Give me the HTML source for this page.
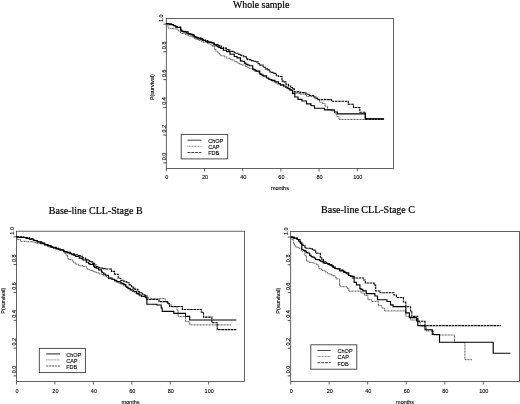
<!DOCTYPE html>
<html><head><meta charset="utf-8"><title>Survival curves</title>
<style>
html,body{margin:0;padding:0;background:#fff;}
body{width:520px;height:404px;overflow:hidden;}
svg{display:block;}
.s{font-family:"Liberation Sans",sans-serif;font-size:5.5px;fill:#000;stroke:#000;stroke-width:0.1;}
.t{font-family:"Liberation Serif",serif;font-size:10px;fill:#000;stroke:#000;stroke-width:0.2;}
.chop{fill:none;stroke:#000;stroke-width:1.15;}
.cap{fill:none;stroke:#222;stroke-width:0.8;stroke-dasharray:1 0.5;}
.fdb{fill:none;stroke:#000;stroke-width:1.1;stroke-dasharray:2.6 0.6;}
.lchop{stroke:#111;stroke-width:0.8;}
.lcap{stroke:#555;stroke-width:0.7;stroke-dasharray:1 0.5;}
.lfdb{stroke:#111;stroke-width:0.8;stroke-dasharray:3 0.8;}
.lchop.thick{stroke:#444;stroke-width:1.2;}
.lcap.thick{stroke:#888;stroke-width:1.0;}
.lfdb.thick{stroke:#555;stroke-width:1.1;stroke-dasharray:2.2 0.7;}
</style></head><body>
<svg width="520" height="404" viewBox="0 0 520 404">
<defs><filter id="b" x="0" y="0" width="520" height="404" filterUnits="userSpaceOnUse"><feGaussianBlur stdDeviation="0.34"/></filter></defs>
<rect width="520" height="404" fill="#fff"/>
<g filter="url(#b)">
<rect x="166.3" y="18.5" width="227.1" height="149.9" fill="none" stroke="#3c3c3c" stroke-width="0.8"/>
<line x1="166.3" y1="168.45" x2="166.3" y2="171.4" stroke="#3c3c3c" stroke-width="0.8"/>
<text x="166.8" y="179.4" text-anchor="middle" class="s">0</text>
<line x1="204.5" y1="168.45" x2="204.5" y2="171.4" stroke="#3c3c3c" stroke-width="0.8"/>
<text x="205.0" y="179.4" text-anchor="middle" class="s">20</text>
<line x1="242.7" y1="168.45" x2="242.7" y2="171.4" stroke="#3c3c3c" stroke-width="0.8"/>
<text x="243.2" y="179.4" text-anchor="middle" class="s">40</text>
<line x1="280.9" y1="168.45" x2="280.9" y2="171.4" stroke="#3c3c3c" stroke-width="0.8"/>
<text x="281.4" y="179.4" text-anchor="middle" class="s">60</text>
<line x1="319.1" y1="168.45" x2="319.1" y2="171.4" stroke="#3c3c3c" stroke-width="0.8"/>
<text x="319.6" y="179.4" text-anchor="middle" class="s">80</text>
<line x1="357.3" y1="168.45" x2="357.3" y2="171.4" stroke="#3c3c3c" stroke-width="0.8"/>
<text x="357.8" y="179.4" text-anchor="middle" class="s">100</text>
<line x1="163.3" y1="162.9" x2="166.3" y2="162.9" stroke="#3c3c3c" stroke-width="0.9"/>
<text transform="translate(165.8,160.3) rotate(-90)" class="s">0.0</text>
<line x1="163.3" y1="135.1" x2="166.3" y2="135.1" stroke="#3c3c3c" stroke-width="0.9"/>
<text transform="translate(165.8,132.5) rotate(-90)" class="s">0.2</text>
<line x1="163.3" y1="107.4" x2="166.3" y2="107.4" stroke="#3c3c3c" stroke-width="0.9"/>
<text transform="translate(165.8,104.8) rotate(-90)" class="s">0.4</text>
<line x1="163.3" y1="79.6" x2="166.3" y2="79.6" stroke="#3c3c3c" stroke-width="0.9"/>
<text transform="translate(165.8,77.0) rotate(-90)" class="s">0.6</text>
<line x1="163.3" y1="51.8" x2="166.3" y2="51.8" stroke="#3c3c3c" stroke-width="0.9"/>
<text transform="translate(165.8,49.2) rotate(-90)" class="s">0.8</text>
<line x1="163.3" y1="24.1" x2="166.3" y2="24.1" stroke="#3c3c3c" stroke-width="0.9"/>
<text transform="translate(163.4,22.0) rotate(-90)" class="s">1.0</text>
<text x="279.9" y="190.2" text-anchor="middle" class="s">months</text>
<text transform="translate(154.3,87.2) rotate(-90)" text-anchor="middle" class="s">P(survival)</text>
<text x="233.0" y="7.5" class="t" style="font-size:9.8px">Whole sample</text>
<path d="M166.3,23.6 L168.0,23.6 L168.0,28.0 L170.7,28.0 L170.7,28.5 L173.2,28.5 L173.2,28.8 L175.8,28.8 L175.8,29.0 L178.1,29.0 L178.1,31.1 L180.4,31.1 L180.4,33.2 L182.0,33.2 L182.0,33.5 L185.7,33.5 L185.7,35.0 L188.1,35.0 L188.1,35.8 L189.0,35.8 L189.0,36.1 L191.6,36.1 L191.6,36.9 L194.2,36.9 L194.2,38.7 L195.8,38.7 L195.8,39.3 L198.5,39.3 L198.5,40.3 L201.3,40.3 L201.3,41.4 L203.5,41.4 L203.5,42.4 L206.5,42.4 L206.5,42.8 L207.6,42.8 L207.6,43.8 L209.6,43.8 L209.6,44.2 L211.2,44.2 L211.2,45.4 L212.7,45.4 L212.7,46.5 L214.5,46.5 L214.5,49.1 L215.8,49.1 L215.8,51.2 L217.8,51.2 L217.8,53.0 L219.5,53.0 L219.5,54.4 L220.4,54.4 L220.4,55.3 L221.4,55.3 L221.4,55.8 L224.4,55.8 L224.4,56.9 L226.5,56.9 L226.5,58.1 L229.7,58.1 L229.7,59.1 L231.1,59.1 L231.1,59.9 L234.2,59.9 L234.2,61.2 L235.4,61.2 L235.4,61.6 L237.2,61.6 L237.2,63.1 L239.4,63.1 L239.4,64.2 L240.8,64.2 L240.8,64.3 L241.9,64.3 L241.9,65.0 L245.3,65.0 L245.3,66.4 L246.9,66.4 L246.9,66.7 L247.7,66.7 L247.7,67.5 L249.1,67.5 L249.1,68.6 L252.4,68.6 L252.4,69.6 L254.1,69.6 L254.1,71.2 L255.4,71.2 L255.4,71.5 L258.6,71.5 L258.6,73.3 L259.9,73.3 L259.9,74.1 L263.1,74.1 L263.1,76.3 L264.8,76.3 L264.8,77.0 L266.9,77.0 L266.9,78.1 L268.9,78.1 L268.9,79.7 L270.8,79.7 L270.8,80.2 L271.7,80.2 L271.7,81.2 L275.1,81.2 L275.1,83.0 L277.3,83.0 L277.3,84.1 L278.5,84.1 L278.5,84.2 L280.0,84.2 L280.0,85.3 L283.3,85.3 L283.3,87.0 L286.0,87.0 L286.0,88.3 L286.0,88.3 L289.0,88.3 L289.0,89.6 L291.8,89.6 L291.8,91.0 L294.1,91.0 L294.1,93.2 L300.0,93.2 L300.0,94.1 L306.5,94.1 L306.5,96.4 L314.0,96.4 L314.0,98.0 L317.5,98.0 L317.5,99.6 L319.5,99.6 L319.5,102.2 L322.5,102.2 L322.5,103.5 L325.0,103.5 L325.0,106.2 L327.5,106.2 L327.5,109.7 L331.0,109.7 L331.0,110.8 L334.5,110.8 L334.5,113.2 L336.8,113.2 L336.8,116.6 L339.0,116.6 L339.0,119.4 L384.1,119.4" class="cap"/>
<path d="M166.3,23.6 L168.0,23.6 L168.0,23.8 L169.6,23.8 L169.6,23.9 L172.1,23.9 L172.1,24.8 L174.2,24.8 L174.2,25.5 L175.2,25.5 L175.2,26.5 L177.3,26.5 L177.3,27.3 L180.8,27.3 L180.8,30.7 L181.9,30.7 L181.9,31.2 L184.4,31.2 L184.4,31.7 L188.1,31.7 L188.1,33.8 L189.5,33.8 L189.5,34.2 L192.3,34.2 L192.3,35.7 L194.4,35.7 L194.4,37.1 L195.8,37.1 L195.8,37.3 L197.7,37.3 L197.7,37.8 L201.0,37.8 L201.0,39.4 L203.5,39.4 L203.5,40.4 L205.4,40.4 L205.4,40.6 L207.8,40.6 L207.8,42.0 L209.2,42.0 L209.2,42.4 L211.2,42.4 L211.2,42.7 L214.4,42.7 L214.4,44.4 L215.3,44.4 L215.3,44.5 L218.8,44.5 L218.8,45.8 L219.8,45.8 L219.8,46.1 L221.5,46.1 L221.5,47.2 L223.6,47.2 L223.6,48.1 L226.5,48.1 L226.5,49.6 L227.4,49.6 L227.4,49.6 L228.7,49.6 L228.7,50.1 L229.8,50.1 L229.8,51.4 L233.1,51.4 L233.1,51.8 L234.2,51.8 L234.2,52.7 L236.0,52.7 L236.0,53.2 L237.9,53.2 L237.9,54.4 L240.5,54.4 L240.5,55.1 L241.9,55.1 L241.9,55.8 L243.7,55.8 L243.7,56.6 L246.2,56.6 L246.2,58.9 L247.7,58.9 L247.7,59.6 L248.8,59.6 L248.8,59.6 L250.8,59.6 L250.8,60.6 L253.9,60.6 L253.9,61.3 L255.4,61.3 L255.4,61.9 L258.1,61.9 L258.1,63.7 L260.0,63.7 L260.0,65.1 L263.1,65.1 L263.1,67.3 L265.2,67.3 L265.2,68.9 L267.4,68.9 L267.4,69.9 L269.8,69.9 L269.8,72.0 L270.8,72.0 L270.8,72.4 L272.9,72.4 L272.9,73.4 L276.3,73.4 L276.3,75.8 L278.5,75.8 L278.5,76.5 L282.0,76.5 L282.0,80.9 L283.1,80.9 L283.1,81.9 L286.0,81.9 L286.0,84.3 L286.0,84.3 L288.5,84.3 L288.5,86.0 L290.6,86.0 L290.6,87.5 L292.5,87.5 L292.5,88.9 L294.4,88.9 L294.4,91.9 L300.0,91.9 L300.0,92.6 L305.9,92.6 L305.9,94.2 L309.5,94.2 L309.5,95.5 L313.7,95.5 L313.7,97.0 L316.0,97.0 L316.0,98.3 L318.3,98.3 L318.3,99.6 L331.5,99.6 L331.5,101.3 L348.2,101.3 L348.2,104.3 L353.5,104.3 L353.5,107.5 L359.8,107.5 L359.8,112.2 L365.3,112.2 L365.3,119.1 L384.1,119.1" class="fdb"/>
<path d="M166.3,23.6 L167.9,23.6 L167.9,24.0 L169.8,24.0 L169.8,24.6 L172.5,24.6 L172.5,24.6 L173.5,24.6 L173.5,25.7 L174.2,25.7 L174.2,25.7 L175.8,25.7 L175.8,27.1 L177.3,27.1 L177.3,27.3 L180.6,27.3 L180.6,30.1 L181.9,30.1 L181.9,31.2 L183.2,31.2 L183.2,31.9 L186.6,31.9 L186.6,33.2 L188.1,33.2 L188.1,33.8 L190.9,33.8 L190.9,34.6 L194.0,34.6 L194.0,36.6 L195.8,36.6 L195.8,37.3 L196.8,37.3 L196.8,38.1 L199.0,38.1 L199.0,38.8 L202.4,38.8 L202.4,40.2 L203.5,40.2 L203.5,40.4 L205.5,40.4 L205.5,41.3 L207.7,41.3 L207.7,42.1 L211.2,42.1 L211.2,42.7 L212.4,42.7 L212.4,43.0 L213.9,43.0 L213.9,44.8 L216.0,44.8 L216.0,45.8 L217.8,45.8 L217.8,46.7 L218.8,46.7 L218.8,47.3 L220.7,47.3 L220.7,48.5 L223.3,48.5 L223.3,50.2 L226.5,50.2 L226.5,51.6 L230.0,51.6 L230.0,54.2 L234.2,54.2 L234.2,56.5 L237.0,56.5 L237.0,57.8 L240.4,57.8 L240.4,60.8 L241.9,60.8 L241.9,61.2 L244.4,61.2 L244.4,63.1 L245.9,63.1 L245.9,64.2 L247.7,64.2 L247.7,65.0 L249.4,65.0 L249.4,65.7 L252.7,65.7 L252.7,69.1 L253.9,69.1 L253.9,69.7 L255.4,69.7 L255.4,70.4 L256.7,70.4 L256.7,71.1 L259.8,71.1 L259.8,73.9 L260.8,73.9 L260.8,74.3 L261.9,74.3 L261.9,75.2 L263.1,75.2 L263.1,75.8 L266.5,75.8 L266.5,78.0 L268.9,78.0 L268.9,79.2 L270.8,79.2 L270.8,79.6 L271.9,79.6 L271.9,80.3 L272.9,80.3 L272.9,80.3 L275.0,80.3 L275.0,81.8 L276.3,81.8 L276.3,81.9 L278.5,81.9 L278.5,83.5 L280.3,83.5 L280.3,84.9 L283.7,84.9 L283.7,86.0 L286.0,86.0 L286.0,87.2 L286.0,87.2 L288.0,87.2 L288.0,88.6 L290.0,88.6 L290.0,90.1 L292.5,90.1 L292.5,93.5 L294.8,93.5 L294.8,97.0 L298.0,97.0 L298.0,99.3 L302.0,99.3 L302.0,101.0 L306.5,101.0 L306.5,103.9 L311.0,103.9 L311.0,105.7 L314.5,105.7 L314.5,108.2 L324.5,108.2 L324.5,109.8 L334.5,109.8 L334.5,112.0 L337.5,112.0 L337.5,113.8 L365.3,113.8 L365.3,118.7 L384.1,118.7" class="chop"/>
<rect x="181.2" y="134.4" width="46.5" height="24.5" fill="#fff" stroke="#3c3c3c" stroke-width="0.9"/>
<line x1="187.5" y1="140.2" x2="201.4" y2="140.2" class="lchop thin"/>
<text x="208.2" y="143.0" class="s">ChOP</text>
<line x1="187.5" y1="146.3" x2="201.4" y2="146.3" class="lcap thin"/>
<text x="208.2" y="149.1" class="s">CAP</text>
<line x1="187.5" y1="152.5" x2="201.4" y2="152.5" class="lfdb thin"/>
<text x="208.2" y="155.3" class="s">FDB</text>
<rect x="16.5" y="231.2" width="228.0" height="150.3" fill="none" stroke="#3c3c3c" stroke-width="0.8"/>
<line x1="16.5" y1="381.5" x2="16.5" y2="384.5" stroke="#3c3c3c" stroke-width="0.8"/>
<text x="17.0" y="392.7" text-anchor="middle" class="s">0</text>
<line x1="54.9" y1="381.5" x2="54.9" y2="384.5" stroke="#3c3c3c" stroke-width="0.8"/>
<text x="55.4" y="392.7" text-anchor="middle" class="s">20</text>
<line x1="93.4" y1="381.5" x2="93.4" y2="384.5" stroke="#3c3c3c" stroke-width="0.8"/>
<text x="93.9" y="392.7" text-anchor="middle" class="s">40</text>
<line x1="131.8" y1="381.5" x2="131.8" y2="384.5" stroke="#3c3c3c" stroke-width="0.8"/>
<text x="132.3" y="392.7" text-anchor="middle" class="s">60</text>
<line x1="170.3" y1="381.5" x2="170.3" y2="384.5" stroke="#3c3c3c" stroke-width="0.8"/>
<text x="170.8" y="392.7" text-anchor="middle" class="s">80</text>
<line x1="208.7" y1="381.5" x2="208.7" y2="384.5" stroke="#3c3c3c" stroke-width="0.8"/>
<text x="209.2" y="392.7" text-anchor="middle" class="s">100</text>
<line x1="13.5" y1="375.9" x2="16.5" y2="375.9" stroke="#3c3c3c" stroke-width="0.9"/>
<text transform="translate(16.0,373.3) rotate(-90)" class="s">0.0</text>
<line x1="13.5" y1="348.1" x2="16.5" y2="348.1" stroke="#3c3c3c" stroke-width="0.9"/>
<text transform="translate(16.0,345.5) rotate(-90)" class="s">0.2</text>
<line x1="13.5" y1="320.3" x2="16.5" y2="320.3" stroke="#3c3c3c" stroke-width="0.9"/>
<text transform="translate(16.0,317.7) rotate(-90)" class="s">0.4</text>
<line x1="13.5" y1="292.4" x2="16.5" y2="292.4" stroke="#3c3c3c" stroke-width="0.9"/>
<text transform="translate(16.0,289.8) rotate(-90)" class="s">0.6</text>
<line x1="13.5" y1="264.6" x2="16.5" y2="264.6" stroke="#3c3c3c" stroke-width="0.9"/>
<text transform="translate(16.0,262.0) rotate(-90)" class="s">0.8</text>
<line x1="13.5" y1="236.8" x2="16.5" y2="236.8" stroke="#3c3c3c" stroke-width="0.9"/>
<text transform="translate(13.6,234.7) rotate(-90)" class="s">1.0</text>
<text x="130.5" y="404" text-anchor="middle" class="s">months</text>
<text transform="translate(5.2,300.7) rotate(-90)" text-anchor="middle" class="s">P(survival)</text>
<text x="48.8" y="213.6" class="t" style="font-size:10px">Base-line CLL-Stage B</text>
<path d="M16.5,236.8 L17.4,236.8 L17.4,239.5 L20.4,239.5 L20.4,241.3 L21.7,241.3 L21.7,241.3 L23.3,241.3 L23.3,241.3 L26.2,241.3 L26.2,241.7 L29.4,241.7 L29.4,241.7 L32.7,241.7 L32.7,242.1 L34.2,242.1 L34.2,242.4 L35.6,242.4 L35.6,243.2 L37.1,243.2 L37.1,243.3 L40.6,243.3 L40.6,243.9 L43.9,243.9 L43.9,244.8 L44.8,244.8 L44.8,245.2 L47.8,245.2 L47.8,245.8 L48.9,245.8 L48.9,247.1 L50.7,247.1 L50.7,247.2 L52.5,247.2 L52.5,248.0 L55.3,248.0 L55.3,248.3 L57.2,248.3 L57.2,249.3 L59.5,249.3 L59.5,249.8 L60.2,249.8 L60.2,250.3 L63.8,250.3 L63.8,252.6 L64.8,252.6 L64.8,253.4 L66.0,253.4 L66.0,255.4 L67.8,255.4 L67.8,258.8 L69.0,258.8 L69.0,259.8 L72.5,259.8 L72.5,261.1 L73.7,261.1 L73.7,262.8 L75.5,262.8 L75.5,264.2 L78.6,264.2 L78.6,265.4 L80.3,265.4 L80.3,265.8 L83.2,265.8 L83.2,266.5 L86.4,266.5 L86.4,268.3 L87.8,268.3 L87.8,269.5 L90.0,269.5 L90.0,270.4 L92.8,270.4 L92.8,271.5 L94.0,271.5 L94.0,271.9 L96.2,271.9 L96.2,272.7 L99.1,272.7 L99.1,274.0 L102.3,274.0 L102.3,275.0 L103.7,275.0 L103.7,276.0 L106.4,276.0 L106.4,277.2 L108.5,277.2 L108.5,278.8 L111.3,278.8 L111.3,279.6 L114.6,279.6 L114.6,281.5 L115.9,281.5 L115.9,281.9 L118.9,281.9 L118.9,283.5 L120.8,283.5 L120.8,284.2 L123.5,284.2 L123.5,285.9 L125.3,285.9 L125.3,286.7 L126.9,286.7 L126.9,288.1 L129.8,288.1 L129.8,290.2 L132.3,290.2 L132.3,291.7 L133.1,291.7 L133.1,291.9 L134.8,291.9 L134.8,292.8 L138.1,292.8 L138.1,294.6 L139.2,294.6 L139.2,295.8 L140.8,295.8 L140.8,296.5 L142.7,296.5 L142.7,296.5 L145.4,296.5 L145.4,297.3 L148.5,297.3 L148.5,298.7 L148.5,298.7 L165.4,298.7 L165.4,302.0 L168.6,302.0 L168.6,304.8 L171.7,304.8 L171.7,306.9 L177.0,306.9 L177.0,310.1 L178.1,310.1 L178.1,316.4 L185.5,316.4 L185.5,321.7 L189.7,321.7 L189.7,324.9 L231.0,324.9" class="cap"/>
<path d="M16.5,236.8 L19.6,236.8 L19.6,236.8 L23.2,236.8 L23.2,237.2 L24.4,237.2 L24.4,237.3 L25.6,237.3 L25.6,237.5 L29.4,237.5 L29.4,239.1 L32.4,239.1 L32.4,239.8 L33.8,239.8 L33.8,240.6 L37.1,240.6 L37.1,241.8 L40.3,241.8 L40.3,243.2 L42.9,243.2 L42.9,243.5 L44.8,243.5 L44.8,244.6 L46.3,244.6 L46.3,245.1 L48.8,245.1 L48.8,245.6 L50.4,245.6 L50.4,246.8 L51.4,246.8 L51.4,247.2 L52.5,247.2 L52.5,247.2 L56.1,247.2 L56.1,248.3 L58.6,248.3 L58.6,249.3 L60.2,249.3 L60.2,249.8 L63.9,249.8 L63.9,251.2 L65.6,251.2 L65.6,252.0 L67.8,252.0 L67.8,252.3 L70.4,252.3 L70.4,253.4 L71.3,253.4 L71.3,253.8 L74.1,253.8 L74.1,254.4 L75.5,254.4 L75.5,254.9 L77.7,254.9 L77.7,255.5 L80.1,255.5 L80.1,256.3 L82.4,256.3 L82.4,257.9 L83.2,257.9 L83.2,258.0 L85.7,258.0 L85.7,259.9 L89.2,259.9 L89.2,261.0 L90.0,261.0 L90.0,261.9 L92.7,261.9 L92.7,263.4 L94.6,263.4 L94.6,265.0 L96.2,265.0 L96.2,266.5 L98.6,266.5 L98.6,267.6 L100.5,267.6 L100.5,268.0 L102.3,268.0 L102.3,268.1 L103.6,268.1 L103.6,268.6 L106.2,268.6 L106.2,269.0 L108.5,269.0 L108.5,269.0 L111.5,269.0 L111.5,271.4 L114.6,271.4 L114.6,274.2 L118.2,274.2 L118.2,278.2 L120.8,278.2 L120.8,280.4 L123.9,280.4 L123.9,281.5 L125.1,281.5 L125.1,281.5 L126.2,281.5 L126.2,282.1 L126.9,282.1 L126.9,282.7 L129.2,282.7 L129.2,284.9 L131.6,284.9 L131.6,286.8 L133.1,286.8 L133.1,288.1 L134.9,288.1 L134.9,289.4 L137.9,289.4 L137.9,291.6 L139.2,291.6 L139.2,292.7 L142.7,292.7 L142.7,294.7 L144.6,294.7 L144.6,295.3 L145.4,295.3 L145.4,295.8 L145.4,295.8 L146.9,295.8 L146.9,299.5 L159.0,299.5 L159.0,301.6 L167.5,301.6 L167.5,303.5 L169.6,303.5 L169.6,306.5 L182.3,306.5 L182.3,309.5 L201.3,309.5 L201.3,312.2 L203.5,312.2 L203.5,317.1 L211.9,317.1 L211.9,322.8 L217.2,322.8 L217.2,329.6 L236.3,329.6" class="fdb"/>
<path d="M16.5,236.8 L17.8,236.8 L17.8,237.2 L20.5,237.2 L20.5,237.5 L23.2,237.5 L23.2,237.5 L26.0,237.5 L26.0,238.5 L28.5,238.5 L28.5,238.5 L29.4,238.5 L29.4,239.1 L30.3,239.1 L30.3,239.1 L33.4,239.1 L33.4,240.0 L34.6,240.0 L34.6,240.5 L37.1,240.5 L37.1,241.8 L38.5,241.8 L38.5,241.8 L41.8,241.8 L41.8,243.1 L44.8,243.1 L44.8,244.6 L47.6,244.6 L47.6,245.9 L51.2,245.9 L51.2,246.9 L52.5,246.9 L52.5,247.2 L53.5,247.2 L53.5,247.8 L55.9,247.8 L55.9,248.6 L57.1,248.6 L57.1,249.0 L60.2,249.0 L60.2,249.8 L61.3,249.8 L61.3,250.0 L63.8,250.0 L63.8,251.6 L65.4,251.6 L65.4,251.6 L67.0,251.6 L67.0,252.7 L67.8,252.7 L67.8,252.9 L69.8,252.9 L69.8,253.7 L71.9,253.7 L71.9,254.6 L73.9,254.6 L73.9,255.3 L75.5,255.3 L75.5,256.5 L79.2,256.5 L79.2,258.1 L82.2,258.1 L82.2,259.2 L83.2,259.2 L83.2,260.0 L86.3,260.0 L86.3,262.2 L88.6,262.2 L88.6,263.6 L90.0,263.6 L90.0,264.5 L93.5,264.5 L93.5,266.1 L94.6,266.1 L94.6,267.5 L96.2,267.5 L96.2,268.1 L98.6,268.1 L98.6,269.8 L101.5,269.8 L101.5,271.8 L102.3,271.8 L102.3,272.7 L103.8,272.7 L103.8,274.1 L105.6,274.1 L105.6,275.2 L108.5,275.2 L108.5,278.1 L112.1,278.1 L112.1,279.2 L114.6,279.2 L114.6,280.4 L116.7,280.4 L116.7,281.6 L119.2,281.6 L119.2,281.9 L120.8,281.9 L120.8,282.7 L121.8,282.7 L121.8,283.4 L123.8,283.4 L123.8,284.6 L125.7,284.6 L125.7,286.2 L126.9,286.2 L126.9,287.3 L128.2,287.3 L128.2,288.7 L130.5,288.7 L130.5,289.7 L133.1,289.7 L133.1,291.2 L136.4,291.2 L136.4,293.6 L139.2,293.6 L139.2,295.0 L141.5,295.0 L141.5,296.2 L145.4,296.2 L145.4,297.6 L145.4,297.6 L146.9,297.6 L146.9,304.2 L156.9,304.2 L156.9,305.0 L161.2,305.0 L161.2,308.0 L162.2,308.0 L162.2,311.4 L173.8,311.4 L173.8,313.3 L185.5,313.3 L185.5,316.4 L189.7,316.4 L189.7,320.0 L236.3,320.0" class="chop"/>
<rect x="39.3" y="348.4" width="46.1" height="24.2" fill="#fff" stroke="#3c3c3c" stroke-width="0.9"/>
<line x1="46.2" y1="353.9" x2="59.9" y2="353.9" class="lchop thick"/>
<text x="66.2" y="357.0" class="s">ChOP</text>
<line x1="46.2" y1="359.9" x2="59.9" y2="359.9" class="lcap thick"/>
<text x="66.2" y="363.0" class="s">CAP</text>
<line x1="46.2" y1="366.0" x2="59.9" y2="366.0" class="lfdb thick"/>
<text x="66.2" y="369.1" class="s">FDB</text>
<rect x="290.7" y="231.5" width="228.8" height="150.0" fill="none" stroke="#3c3c3c" stroke-width="0.8"/>
<line x1="290.7" y1="381.5" x2="290.7" y2="384.5" stroke="#3c3c3c" stroke-width="0.8"/>
<text x="291.2" y="392.9" text-anchor="middle" class="s">0</text>
<line x1="329.2" y1="381.5" x2="329.2" y2="384.5" stroke="#3c3c3c" stroke-width="0.8"/>
<text x="329.7" y="392.9" text-anchor="middle" class="s">20</text>
<line x1="367.7" y1="381.5" x2="367.7" y2="384.5" stroke="#3c3c3c" stroke-width="0.8"/>
<text x="368.2" y="392.9" text-anchor="middle" class="s">40</text>
<line x1="406.3" y1="381.5" x2="406.3" y2="384.5" stroke="#3c3c3c" stroke-width="0.8"/>
<text x="406.8" y="392.9" text-anchor="middle" class="s">60</text>
<line x1="444.8" y1="381.5" x2="444.8" y2="384.5" stroke="#3c3c3c" stroke-width="0.8"/>
<text x="445.3" y="392.9" text-anchor="middle" class="s">80</text>
<line x1="483.3" y1="381.5" x2="483.3" y2="384.5" stroke="#3c3c3c" stroke-width="0.8"/>
<text x="483.8" y="392.9" text-anchor="middle" class="s">100</text>
<line x1="287.7" y1="375.9" x2="290.7" y2="375.9" stroke="#3c3c3c" stroke-width="0.9"/>
<text transform="translate(290.2,373.3) rotate(-90)" class="s">0.0</text>
<line x1="287.7" y1="348.2" x2="290.7" y2="348.2" stroke="#3c3c3c" stroke-width="0.9"/>
<text transform="translate(290.2,345.6) rotate(-90)" class="s">0.2</text>
<line x1="287.7" y1="320.4" x2="290.7" y2="320.4" stroke="#3c3c3c" stroke-width="0.9"/>
<text transform="translate(290.2,317.8) rotate(-90)" class="s">0.4</text>
<line x1="287.7" y1="292.6" x2="290.7" y2="292.6" stroke="#3c3c3c" stroke-width="0.9"/>
<text transform="translate(290.2,290.0) rotate(-90)" class="s">0.6</text>
<line x1="287.7" y1="264.8" x2="290.7" y2="264.8" stroke="#3c3c3c" stroke-width="0.9"/>
<text transform="translate(290.2,262.2) rotate(-90)" class="s">0.8</text>
<line x1="287.7" y1="237.1" x2="290.7" y2="237.1" stroke="#3c3c3c" stroke-width="0.9"/>
<text transform="translate(287.8,235.0) rotate(-90)" class="s">1.0</text>
<text x="405.1" y="404" text-anchor="middle" class="s">months</text>
<text transform="translate(279.8,300.7) rotate(-90)" text-anchor="middle" class="s">P(survival)</text>
<text x="321.1" y="213.2" class="t" style="font-size:10px">Base-line CLL-Stage C</text>
<path d="M290.7,237.1 L291.9,237.1 L291.9,239.6 L293.4,239.6 L293.4,243.4 L294.6,243.4 L294.6,245.3 L295.7,245.3 L295.7,247.2 L298.5,247.2 L298.5,248.2 L300.3,248.2 L300.3,248.2 L301.8,248.2 L301.8,251.1 L304.9,251.1 L304.9,255.7 L306.5,255.7 L306.5,261.1 L309.0,261.1 L309.0,262.4 L311.1,262.4 L311.1,262.6 L313.2,262.6 L313.2,263.1 L316.3,263.1 L316.3,264.5 L317.2,264.5 L317.2,264.9 L318.8,264.9 L318.8,268.8 L321.8,268.8 L321.8,270.4 L324.9,270.4 L324.9,271.8 L326.9,271.8 L326.9,272.8 L328.2,272.8 L328.2,273.8 L329.5,273.8 L329.5,274.2 L331.7,274.2 L331.7,275.7 L335.0,275.7 L335.0,277.1 L336.2,277.1 L336.2,279.0 L339.5,279.0 L339.5,285.5 L340.2,285.5 L340.2,286.7 L340.2,286.7 L347.1,286.7 L347.1,288.4 L348.9,288.4 L348.9,291.2 L361.0,291.2 L361.0,293.0 L364.5,293.0 L364.5,295.3 L367.9,295.3 L367.9,299.7 L371.4,299.7 L371.4,301.4 L378.3,301.4 L378.3,305.7 L381.8,305.7 L381.8,308.0 L384.5,308.0 L384.5,310.9 L405.8,310.9 L405.8,316.4 L410.6,316.4 L410.6,320.0 L419.0,320.0 L419.0,322.5 L420.2,322.5 L420.2,326.1 L426.3,326.1 L426.3,330.9 L433.5,330.9 L433.5,335.0 L454.5,335.0 L454.5,342.5 L464.9,342.5 L464.9,359.7 L471.9,359.7" class="cap"/>
<path d="M290.7,237.1 L294.1,237.1 L294.1,238.3 L297.2,238.3 L297.2,239.5 L300.2,239.5 L300.2,242.4 L301.8,242.4 L301.8,244.2 L302.9,244.2 L302.9,245.4 L304.9,245.4 L304.9,248.0 L306.1,248.0 L306.1,248.2 L307.3,248.2 L307.3,248.2 L310.1,248.2 L310.1,248.4 L311.1,248.4 L311.1,248.8 L312.4,248.8 L312.4,250.1 L315.7,250.1 L315.7,252.6 L316.6,252.6 L316.6,253.2 L320.3,253.2 L320.3,257.2 L321.8,257.2 L321.8,259.5 L323.4,259.5 L323.4,261.8 L326.5,261.8 L326.5,263.5 L329.5,263.5 L329.5,264.9 L331.9,264.9 L331.9,266.1 L333.3,266.1 L333.3,266.9 L335.0,266.9 L335.0,268.5 L336.2,268.5 L336.2,268.5 L339.9,268.5 L339.9,270.1 L343.7,270.1 L343.7,271.9 L344.8,271.9 L344.8,272.6 L346.4,272.6 L346.4,274.0 L349.0,274.0 L349.0,275.5 L350.6,275.5 L350.6,276.3 L352.3,276.3 L352.3,278.0 L352.3,278.0 L363.6,278.0 L363.6,280.0 L365.3,280.0 L365.3,283.0 L374.0,283.0 L374.0,285.0 L375.7,285.0 L375.7,291.0 L380.1,291.0 L380.1,292.7 L393.9,292.7 L393.9,295.0 L396.5,295.0 L396.5,297.5 L403.4,297.5 L403.4,302.0 L405.8,302.0 L405.8,306.8 L410.6,306.8 L410.6,311.0 L411.8,311.0 L411.8,316.4 L417.8,316.4 L417.8,321.3 L425.0,321.3 L425.0,325.6 L500.8,325.6" class="fdb"/>
<path d="M290.7,237.1 L293.3,237.1 L293.3,237.8 L294.2,237.8 L294.2,238.1 L297.2,238.1 L297.2,239.5 L298.5,239.5 L298.5,241.1 L300.3,241.1 L300.3,243.4 L301.8,243.4 L301.8,249.5 L303.2,249.5 L303.2,250.3 L304.6,250.3 L304.6,250.8 L305.8,250.8 L305.8,251.8 L306.5,251.8 L306.5,252.6 L307.6,252.6 L307.6,253.0 L309.7,253.0 L309.7,255.3 L311.1,255.3 L311.1,256.5 L312.1,256.5 L312.1,257.1 L314.2,257.1 L314.2,258.0 L315.7,258.0 L315.7,259.5 L317.2,259.5 L317.2,259.6 L319.5,259.6 L319.5,260.4 L320.3,260.4 L320.3,261.1 L322.2,261.1 L322.2,261.6 L323.2,261.6 L323.2,262.8 L324.9,262.8 L324.9,263.4 L328.0,263.4 L328.0,264.4 L329.5,264.4 L329.5,264.9 L331.3,264.9 L331.3,265.8 L332.9,265.8 L332.9,267.5 L335.0,267.5 L335.0,268.5 L336.9,268.5 L336.9,268.8 L339.7,268.8 L339.7,270.9 L342.3,270.9 L342.3,270.9 L343.7,270.9 L343.7,271.9 L344.9,271.9 L344.9,272.3 L345.9,272.3 L345.9,272.8 L348.6,272.8 L348.6,275.5 L350.6,275.5 L350.6,276.3 L354.1,276.3 L354.1,282.3 L356.4,282.3 L356.4,284.9 L359.9,284.9 L359.9,288.6 L361.0,288.6 L361.0,289.3 L362.8,289.3 L362.8,290.9 L366.2,290.9 L366.2,293.6 L366.2,293.6 L374.9,293.6 L374.9,296.0 L377.5,296.0 L377.5,299.7 L387.0,299.7 L387.0,301.5 L390.5,301.5 L390.5,304.9 L393.1,304.9 L393.1,306.6 L405.8,306.6 L405.8,312.8 L409.4,312.8 L409.4,317.6 L416.6,317.6 L416.6,321.0 L417.8,321.0 L417.8,325.6 L425.0,325.6 L425.0,329.7 L432.3,329.7 L432.3,334.5 L439.5,334.5 L439.5,342.2 L492.4,342.2 L493.2,342.2 L493.2,353.2 L510.4,353.2" class="chop"/>
<rect x="310.8" y="344.8" width="46.0" height="24.4" fill="#fff" stroke="#3c3c3c" stroke-width="0.9"/>
<line x1="317.4" y1="350.5" x2="330.7" y2="350.5" class="lchop thin"/>
<text x="337.6" y="353.4" class="s">ChOP</text>
<line x1="317.4" y1="356.5" x2="330.7" y2="356.5" class="lcap thin"/>
<text x="337.6" y="359.4" class="s">CAP</text>
<line x1="317.4" y1="362.7" x2="330.7" y2="362.7" class="lfdb thin"/>
<text x="337.6" y="365.6" class="s">FDB</text>
</g>
</svg>
</body></html>
